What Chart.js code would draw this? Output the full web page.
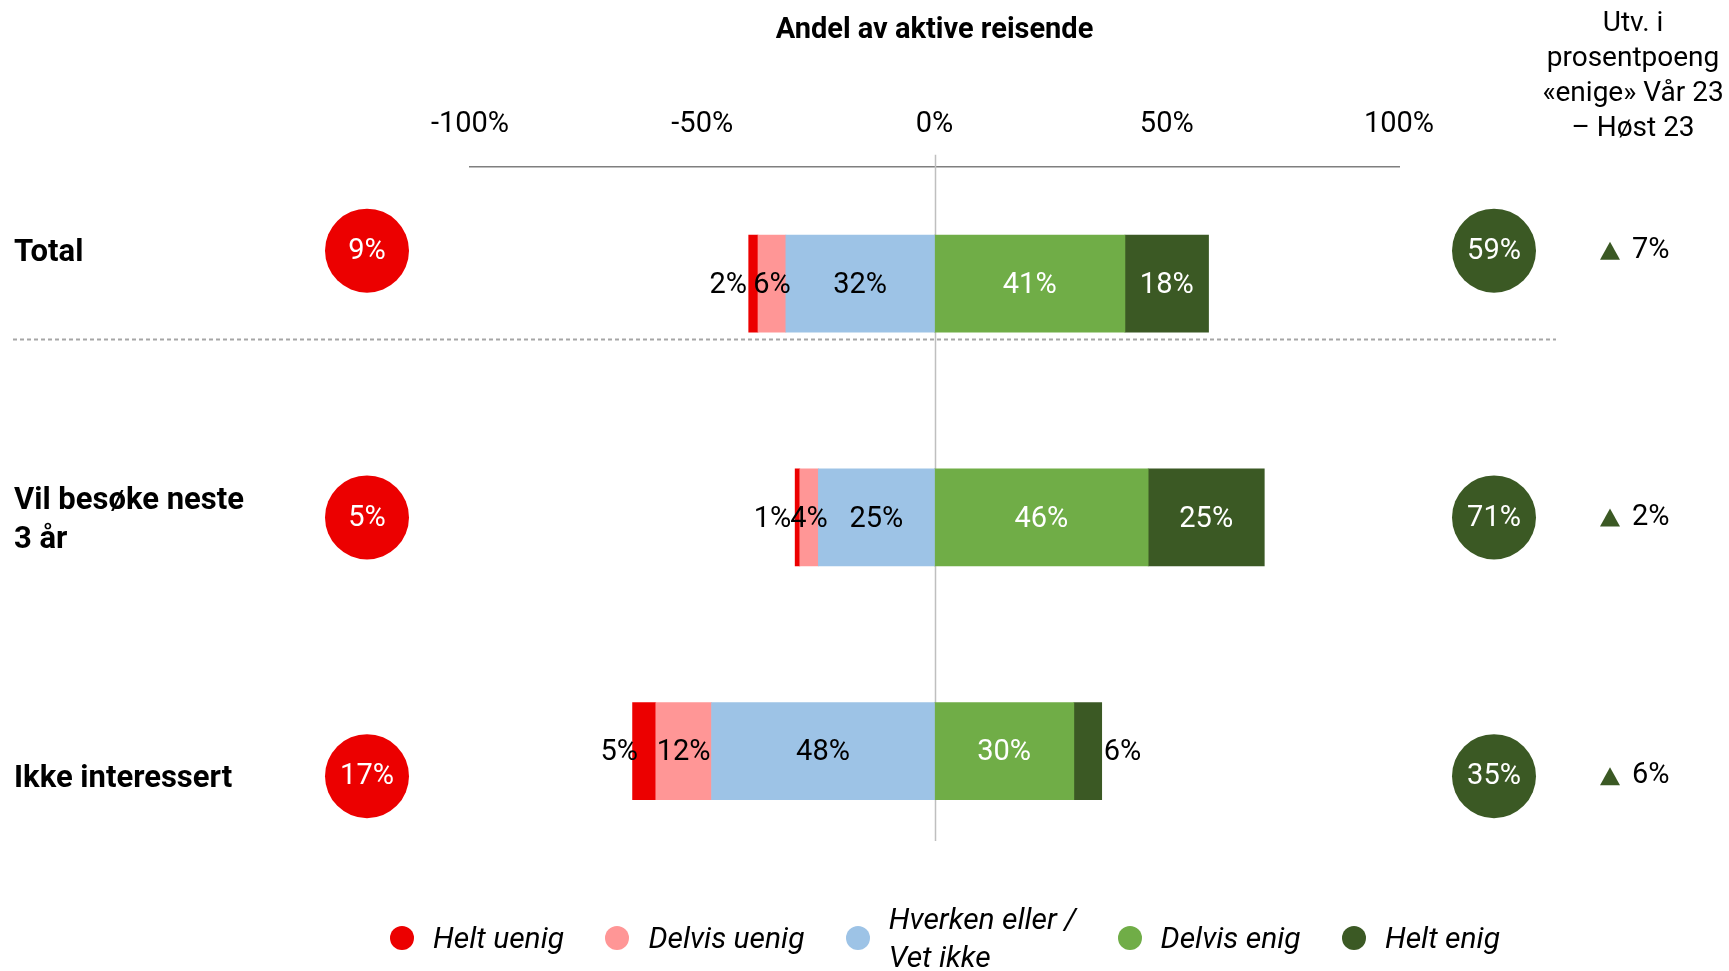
<!DOCTYPE html>
<html lang="no">
<head>
<meta charset="utf-8">
<title>Andel av aktive reisende</title>
<script src="https://cdn.jsdelivr.net/npm/chart.js@4/dist/chart.umd.min.js"></script>
<style>
  body { margin: 0; background: #fff; }
  #wrap { position: relative; width: 1729px; height: 971px; }
  #legend {
    position: absolute; left: 390px; width: 1110px; top: 901px; height: 74px;
    display: flex; align-items: center; justify-content: space-between;
    font-family: Roboto, "Liberation Sans", sans-serif; font-style: italic;
    font-size: 30px; color: #000;
  }
  #legend .item { display: flex; align-items: center; }
  #legend .dot { width: 24px; height: 24px; border-radius: 50%; margin-right: 19px; flex: none; }
  #legend .txt { line-height: 38px; }
</style>
</head>
<body>
<div id="wrap">
  <canvas id="chart"></canvas>
  <div id="legend"></div>
</div>
<script>
const categories = [['Total'], ['Vil besøke neste', '3 år'], ['Ikke interessert']];
const heltUenig = [2, 1, 5];
const delvisUenig = [6, 4, 12];
const hverken = [32, 25, 48];
const delvisEnig = [41, 46, 30];
const heltEnig = [18, 25, 6];
const sumUenig = [9, 5, 17];
const sumEnig = [59, 71, 35];
const endring = [7, 2, 6];
const xTicks = [-100, -50, 0, 50, 100];

const FONT = 'Roboto, "Liberation Sans", sans-serif';
const colors = {
  heltUenig: '#ec0000',
  delvisUenig: '#ff9696',
  hverken: '#9dc3e6',
  delvisEnig: '#70ad47',
  heltEnig: '#3b5924'
};

// side table layout
const sideRowShift = [-33, 0, 25];
const leftCircleX = 367, rightCircleX = 1494, circleR = 42;
const arrowX = 1610;

const neg = arr => arr.map(v => -v);

// neutral and disagree go left of zero, nearest zero first
const datasets = [
  { key: 'hverken', label: 'Hverken eller / Vet ikke', data: neg(hverken), raw: hverken, backgroundColor: colors.hverken, textColor: '#000' },
  { key: 'delvisUenig', label: 'Delvis uenig', data: neg(delvisUenig), raw: delvisUenig, backgroundColor: colors.delvisUenig, textColor: '#000' },
  { key: 'heltUenig', label: 'Helt uenig', data: neg(heltUenig), raw: heltUenig, backgroundColor: colors.heltUenig, textColor: '#000' },
  { key: 'delvisEnig', label: 'Delvis enig', data: delvisEnig, raw: delvisEnig, backgroundColor: colors.delvisEnig, textColor: '#fff' },
  { key: 'heltEnig', label: 'Helt enig', data: heltEnig, raw: heltEnig, backgroundColor: colors.heltEnig, textColor: '#fff' }
];
datasets.forEach(d => { d.barThickness = 97; d.borderWidth = 0; });

const sidePlugin = {
  id: 'side',
  beforeDatasetsDraw(chart) {
    const ctx = chart.ctx, x = chart.scales.x, area = chart.chartArea;
    const x0 = Math.round(x.getPixelForValue(0)) + 0.5;
    ctx.save();
    ctx.strokeStyle = '#bfbfbf';
    ctx.lineWidth = 1.5;
    ctx.beginPath();
    ctx.moveTo(x0, area.top - 12);
    ctx.lineTo(x0, area.bottom - 27);
    ctx.stroke();
    ctx.restore();
  },
  afterDatasetsDraw(chart) {
    const ctx = chart.ctx;
    ctx.save();

    // value labels on the bars
    ctx.font = '29px ' + FONT;
    ctx.textBaseline = 'middle';
    chart.data.datasets.forEach((ds, di) => {
      chart.getDatasetMeta(di).data.forEach((bar, i) => {
        const { x, base, y } = bar.getProps(['x', 'base', 'y'], true);
        const left = Math.min(x, base), right = Math.max(x, base);
        const txt = ds.raw[i] + '%';
        ctx.fillStyle = ds.textColor;
        ctx.textAlign = 'center';
        if (ds.key === 'heltUenig') {
          // thin segment: label pushed out to the left
          ctx.fillStyle = '#000';
          ctx.fillText(txt, (left + right) / 2 - 25, y + 2);
        } else if (ds.key === 'heltEnig' && ds.raw[i] < 10) {
          ctx.fillStyle = '#000';
          ctx.textAlign = 'left';
          ctx.fillText(txt, right + 2, y + 2);
        } else {
          ctx.fillText(txt, (left + right) / 2, y + 2);
        }
      });
    });

    // dashed separator under the Total row
    const first = chart.getDatasetMeta(0).data[0];
    const sepY = Math.round(first.y + first.height / 2 + 7) + 0.5;
    ctx.strokeStyle = '#a6a6a6';
    ctx.lineWidth = 2;
    ctx.setLineDash([4, 3]);
    ctx.beginPath();
    ctx.moveTo(13, sepY);
    ctx.lineTo(1556, sepY);
    ctx.stroke();
    ctx.setLineDash([]);

    // row labels, circles and change arrows
    chart.getDatasetMeta(0).data.forEach((bar, i) => {
      const cy = bar.y + sideRowShift[i];
      const lines = categories[i];
      ctx.fillStyle = '#000';
      ctx.font = 'bold 31px ' + FONT;
      ctx.textAlign = 'left';
      lines.forEach((ln, k) => {
        ctx.fillText(ln, 14, cy + 3 + (k - (lines.length - 1) / 2) * 39);
      });

      [[leftCircleX, colors.heltUenig, sumUenig[i]], [rightCircleX, colors.heltEnig, sumEnig[i]]].forEach(([cx, col, v]) => {
        ctx.fillStyle = col;
        ctx.beginPath();
        ctx.arc(cx, cy, circleR, 0, Math.PI * 2);
        ctx.fill();
        ctx.fillStyle = '#fff';
        ctx.font = '29px ' + FONT;
        ctx.textAlign = 'center';
        ctx.fillText(v + '%', cx, cy + 1);
      });

      ctx.fillStyle = colors.heltEnig;
      ctx.beginPath();
      ctx.moveTo(arrowX - 10, cy + 9);
      ctx.lineTo(arrowX + 10, cy + 9);
      ctx.lineTo(arrowX, cy - 9);
      ctx.closePath();
      ctx.fill();
      ctx.fillStyle = '#000';
      ctx.font = '29px ' + FONT;
      ctx.textAlign = 'left';
      ctx.fillText(endring[i] + '%', arrowX + 22, cy);
    });

    // headings
    ctx.fillStyle = '#000';
    ctx.textAlign = 'center';
    ctx.font = 'bold 29px ' + FONT;
    ctx.fillText('Andel av aktive reisende', chart.scales.x.getPixelForValue(0), 31);
    ctx.font = '28px ' + FONT;
    ['Utv. i', 'prosentpoeng', '«enige» Vår 23', '– Høst 23'].forEach((ln, k) => {
      ctx.fillText(ln, 1633, 24 + k * 35);
    });
    ctx.restore();
  }
};

new Chart(document.getElementById('chart'), {
  type: 'bar',
  data: { labels: categories.map(c => c.join(' ')), datasets },
  options: {
    indexAxis: 'y',
    responsive: true,
    maintainAspectRatio: false,
    animation: false,
    layout: { padding: { top: 82, left: 470, right: 330, bottom: 103 } },
    plugins: { legend: { display: false }, tooltip: { enabled: false } },
    scales: {
      x: {
        type: 'linear',
        position: 'top',
        min: -100,
        max: 100,
        stacked: true,
        afterBuildTicks: axis => { axis.ticks = xTicks.map(v => ({ value: v })); },
        ticks: {
          padding: 25,
          color: '#000',
          font: { family: FONT, size: 29 },
          callback: v => v + '%'
        },
        grid: { display: false, drawTicks: false },
        border: { display: true, color: '#7f7f7f', width: 1.5 }
      },
      y: {
        stacked: true,
        display: false,
        offset: true
      }
    }
  },
  plugins: [sidePlugin]
});

// legend in the usual reading order
const legendOrder = ['heltUenig', 'delvisUenig', 'hverken', 'delvisEnig', 'heltEnig'];
const legendText = { heltUenig: 'Helt uenig', delvisUenig: 'Delvis uenig', hverken: 'Hverken eller /<br>Vet ikke', delvisEnig: 'Delvis enig', heltEnig: 'Helt enig' };
document.getElementById('legend').innerHTML = legendOrder.map(k =>
  `<div class="item"><span class="dot" style="background:${colors[k]}"></span><span class="txt">${legendText[k]}</span></div>`
).join('');
</script>
</body>
</html>
